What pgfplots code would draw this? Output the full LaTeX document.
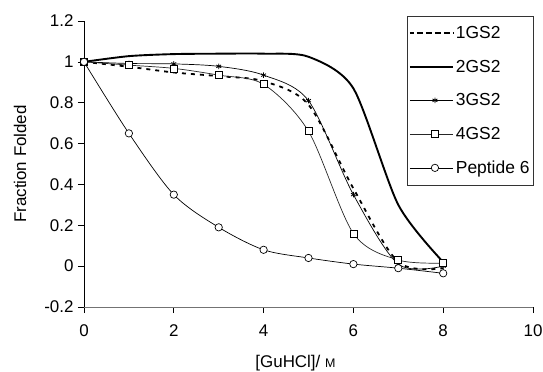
\documentclass[border=0pt]{standalone}
\usepackage{fontspec}
\setmainfont{Liberation Sans}
\usepackage{pgfplots}
\pgfplotsset{compat=1.18}
\begin{document}
\begin{tikzpicture}
\begin{axis}[
  name=main,
  scale only axis,
  width=449bp, height=286bp,
  xmin=0, xmax=10, ymin=-0.2, ymax=1.2,
  xtick={0,2,...,10}, ytick={-0.2,0,0.2,...,1.2},
  yticklabels={-0.2,0,0.2,0.4,0.6,0.8,1,1.2},
  axis x line*=bottom, axis y line*=left,
  x axis line style={black!55,-, line width=0.8pt}, y axis line style={black,-, line width=0.8pt},
  tick align=outside, major tick length=6bp,
  tick style={black, line width=0.7pt},
  every tick label/.append style={font=\fontsize{17}{20}\selectfont},
  yticklabel style={xshift=-1bp},
  xticklabel style={yshift=-8bp},
  /pgf/number format/assume math mode=true,
  xlabel={[GuHCl]/ {\fontsize{12.5}{14}\selectfont M}},
  ylabel={Fraction Folded},
  label style={font=\fontsize{17}{20}\selectfont},
  xlabel style={at={(axis description cs:0.471,-0.196)}, anchor=base, yshift=-4bp},
  ylabel style={at={(axis description cs:-0.1425,0.5)}, anchor=center},
  legend style={at={(1.002,1.018)}, anchor=north east, draw=black!80, line width=0.7pt,
    font=\fontsize{17.5}{20}\selectfont, row sep=16bp, inner xsep=2bp, inner ysep=8bp},
  legend cell align=left,
  legend image code/.code={
    \path (-7bp,0bp) -- (36bp,0bp);
    \draw[#1] (0bp,0bp) -- (36bp,0bp);
    \draw[#1, only marks] plot coordinates {(18bp,0bp)};
  },
  every axis plot/.append style={smooth, tension=0.5},
]
\addplot[black, line width=1.8pt, dash pattern=on 4pt off 5pt] coordinates {
(0,1) (1,0.976) (2,0.948) (3,0.93) (4,0.905) (5,0.79) (6,0.38) (7,0.02) (8,-0.01)};
\addlegendentry{1GS2}
\addplot[black, line width=1.9pt, tension=0.45] coordinates {
(0,1) (1,1.028) (2,1.038) (3,1.04) (4,1.04) (5,1.025) (6,0.87) (7,0.30) (8,0.02)};
\addlegendentry{2GS2}
\addplot[black, line width=0.7pt, mark=asterisk, mark size=2.8pt, mark options={solid, line width=0.8pt}] coordinates {
(0,1) (1,0.992) (2,0.99) (3,0.978) (4,0.935) (5,0.81) (6,0.35) (7,0.01) (8,0.0)};
\addlegendentry{3GS2}
\addplot[black!85, line width=0.7pt, mark=square*, mark size=3.5pt, mark options={solid, fill=white, draw=black, line width=0.7pt}] coordinates {
(0,1) (1,0.984) (2,0.968) (3,0.935) (4,0.89) (5,0.66) (6,0.16) (7,0.03) (8,0.015)};
\addlegendentry{4GS2}
\addplot[black, line width=0.7pt, mark=*, mark size=3.7pt, mark options={solid, fill=white, draw=black, line width=0.7pt}] coordinates {
(0,1) (1,0.65) (2,0.35) (3,0.19) (4,0.08) (5,0.04) (6,0.01) (7,-0.01) (8,-0.035)};
\addlegendentry{Peptide 6}
\end{axis}
\pgfresetboundingbox
\path (main.south west) ++(-84bp,-65bp) rectangle ++(543bp,372bp);
\end{tikzpicture}
\end{document}
